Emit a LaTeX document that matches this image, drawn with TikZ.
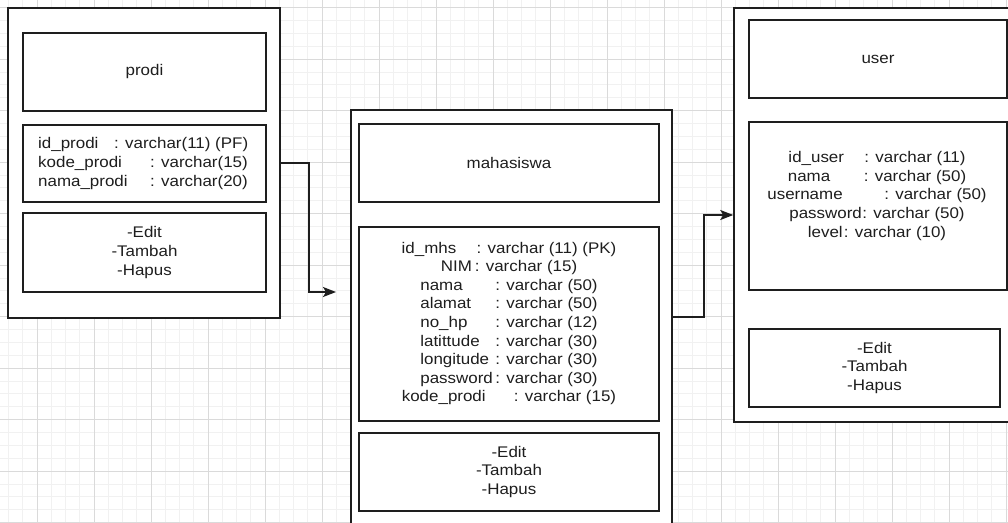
\documentclass[tikz,border=0pt]{standalone}
\usepackage{fontspec}
\setmainfont{Liberation Sans}[FakeStretch=1.1]
\usetikzlibrary{arrows.meta}
\definecolor{minorgrid}{HTML}{F1F1F1}
\definecolor{majorgrid}{HTML}{DADADA}
\definecolor{ink}{HTML}{1E1E1E}
\newcommand{\entfont}{\fontsize{15.4}{18.6}\selectfont}
\newcommand{\fld}[3]{\makebox[#1pt][l]{#2}: #3}
\begin{document}
\begin{tikzpicture}[x=1pt,y=-1pt,
  box/.style={draw=ink,line width=1.5pt,inner sep=0pt,font=\entfont,text=ink,align=center},
  txt/.style={inner sep=0pt,font=\entfont,text=ink},
  conn/.style={draw=ink,line width=1.5pt},
  tip/.style={-{Stealth[length=13pt,width=10pt,inset=3pt]}}]
\useasboundingbox (0,0) rectangle (1008,522);
\clip (0,0) rectangle (1008,522);
\fill[white] (0,0) rectangle (1008,522);
% grid
\foreach \i in {0,...,75} {\draw[minorgrid,line width=0.6pt] ({-20+\i*14.25},0) -- ({-20+\i*14.25},522);}
\foreach \j in {0,...,42} {\draw[minorgrid,line width=0.6pt] (0,{-5.375+\j*12.875}) -- (1008,{-5.375+\j*12.875});}
\foreach \i in {0,...,18} {\draw[majorgrid,line width=0.8pt] ({-20+\i*57},0) -- ({-20+\i*57},522);}
\foreach \j in {0,...,10} {\draw[majorgrid,line width=0.8pt] (0,{7.5+\j*51.5}) -- (1008,{7.5+\j*51.5});}

% prodi
\node[box,fill=white,minimum width=272,minimum height=310] (prodi) at (144,163) {};
\node[box,minimum width=243,minimum height=78] (prodiT) at (144.5,72) {prodi};
\node[box,minimum width=243,minimum height=77] (prodiA) at (144.5,163.5) {};
\node[txt,anchor=west,align=left] (prodiAt) at (38,163.5) {\fld{76}{id\_prodi}{varchar(11) (PF)}\\\fld{112}{kode\_prodi}{varchar(15)}\\\fld{112}{nama\_prodi}{varchar(20)}};
\node[box,minimum width=243,minimum height=79] (prodiM) at (144.5,252.5) {-Edit\\-Tambah\\-Hapus};

% mahasiswa
\node[box,fill=white,minimum width=321,minimum height=414] (mhs) at (511.5,317) {};
\node[box,minimum width=300,minimum height=78] (mhsT) at (509,163) {mahasiswa};
\node[box,minimum width=300,minimum height=194] (mhsA) at (509,324) {};
\node[txt,align=center] (mhsAt) at (509,323.5) {\fld{75}{id\_mhs}{varchar (11) (PK)}\\\fld{34}{NIM}{varchar (15)}\\\fld{75}{nama}{varchar (50)}\\\fld{75}{alamat}{varchar (50)}\\\fld{75}{no\_hp}{varchar (12)}\\\fld{75}{latittude}{varchar (30)}\\\fld{75}{longitude}{varchar (30)}\\\fld{75}{password}{varchar (30)}\\\fld{112}{kode\_prodi}{varchar (15)}};
\node[box,minimum width=300,minimum height=78] (mhsM) at (509,472) {-Edit\\-Tambah\\-Hapus};

% user
\node[box,fill=white,minimum width=288,minimum height=414] (user) at (878,215) {};
\node[box,minimum width=258,minimum height=78] (userT) at (878,59) {user};
\node[box,minimum width=258,minimum height=168] (userA) at (878,206) {};
\node[txt,align=center] (userAt) at (877,196) {\fld{76}{id\_user}{varchar (11)}\\\fld{76}{nama}{varchar (50)}\\\fld{117}{username}{varchar (50)}\\\fld{73}{password}{varchar (50)}\\\fld{36}{level}{varchar (10)}};
\node[box,minimum width=251,minimum height=78] (userM) at (874.5,368) {-Edit\\-Tambah\\-Hapus};

% connectors
\coordinate (mhsin) at (336,292);
\draw[conn,tip] (prodi.east) -- ++(28,0) |- (mhsin);
\draw[conn,tip] (mhs.east) -- ++(31,0) |- (user.west);
\end{tikzpicture}
\end{document}
